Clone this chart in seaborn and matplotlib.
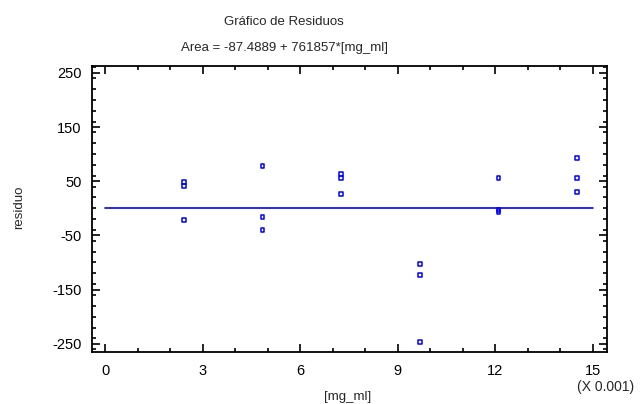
import numpy as np
import pandas as pd
import matplotlib
matplotlib.use("Agg")
import matplotlib.pyplot as plt
import seaborn as sns
from matplotlib.ticker import MultipleLocator

sns.set_style("white")
plt.rcParams['font.family'] = ['Liberation Sans', 'DejaVu Sans']
plt.rcParams['axes.unicode_minus'] = False

conc = [2.42, 2.42, 2.42, 4.84, 4.84, 4.84, 7.26, 7.26, 7.26,
        9.68, 9.68, 9.68, 12.1, 12.1, 12.1, 14.52, 14.52, 14.52]
residuo = [48.8, 41.4, -21.6, 77.8, -15.4, -39.5, 63.0, 56.8, 26.5,
           -102.5, -123.4, -246.9, 56.8, -3.0, -6.0, 93.2, 56.8, 30.2]
zero_x = [0, 15]
zero_y = [0, 0]
x_ticks = [0, 3, 6, 9, 12, 15]
y_ticks = [-250, -150, -50, 50, 150, 250]

df = pd.DataFrame({"mg_ml": conc, "residuo": residuo})
line_df = pd.DataFrame({"x": zero_x, "y": zero_y})

fig = plt.figure(figsize=(6.4, 4.04), dpi=100)
ax = fig.add_axes([0.143, 0.129, 0.806, 0.708])

blue = "#0000ff"
sns.lineplot(data=line_df, x="x", y="y", ax=ax, color=blue, linewidth=1.2)
sns.scatterplot(data=df, x="mg_ml", y="residuo", ax=ax, marker="s", s=8,
                facecolors="none", edgecolor=blue, linewidth=1.1)

ax.set_xlim(-0.42, 15.45)
ax.set_ylim(-265, 263)
ax.set_xticks(x_ticks)
ax.set_yticks(y_ticks)
ax.xaxis.set_minor_locator(MultipleLocator(1))
ax.yaxis.set_minor_locator(MultipleLocator(20))
ax.tick_params(which="both", direction="in", top=True, right=True,
               bottom=True, left=True, labelsize=10.5, colors="black",
               width=1.2)
ax.tick_params(which="major", length=6)
ax.tick_params(which="minor", length=3)
ax.tick_params(axis="x", which="major", pad=8.5)
ax.tick_params(axis="y", which="major", pad=7)
for sp in ax.spines.values():
    sp.set_visible(True)
    sp.set_linewidth(1.3)
    sp.set_color("black")

ax.set_xlabel("[mg_ml]", fontsize=9.5, va="center")
ax.set_ylabel("residuo", fontsize=9.5, va="center")
ax.xaxis.set_label_coords(0.497, -0.157)
ax.yaxis.set_label_coords(-0.14, 0.507)
fig.text(0.946, 0.041, "(X 0.001)", fontsize=10, ha="center", va="center")
fig.text(0.444, 0.945, "Gráfico de Residuos", fontsize=9.5, ha="center", va="center")
fig.text(0.444, 0.881, "Area = -87.4889 + 761857*[mg_ml]", fontsize=9.5,
         ha="center", va="center")

fig.savefig("out.png", dpi=100)
